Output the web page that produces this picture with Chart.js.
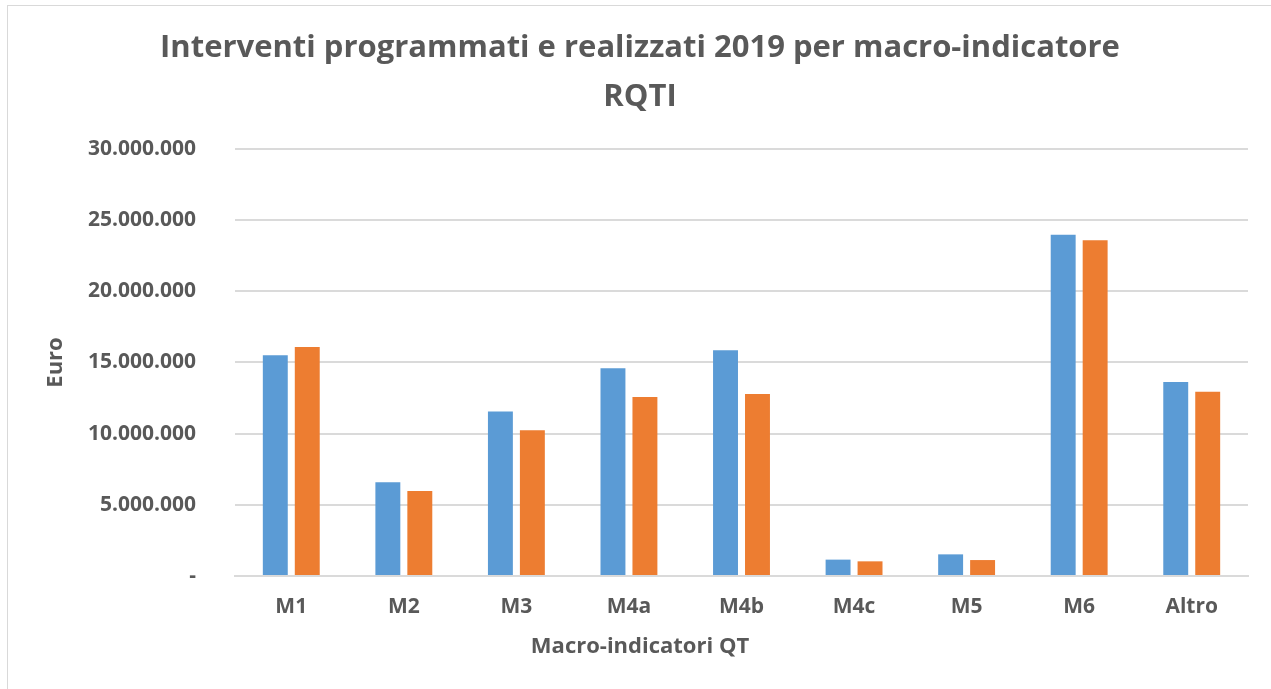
<!DOCTYPE html>
<html>
<head>
<meta charset="utf-8">
<script src="https://cdn.jsdelivr.net/npm/chart.js@4/dist/chart.umd.min.js"></script>
<style>
  html, body { margin: 0; padding: 0; background: #fff; overflow: hidden; }
  #wrap { position: relative; width: 1271px; height: 689px; }
  #frame { position: absolute; left: 7px; top: 5px; width: 1400px; height: 800px;
           border-left: 1px solid #d9d9d9; border-top: 1px solid #d9d9d9; }
  canvas { position: absolute; left: 0; top: 0; }
</style>
</head>
<body>
<div id="wrap">
  <div id="frame"></div>
  <canvas id="chart" width="1271" height="689"></canvas>
</div>
<script>
/* DATA */
const categories = ["M1", "M2", "M3", "M4a", "M4b", "M4c", "M5", "M6", "Altro"];
const programmati = [15510000, 6580000, 11550000, 14600000, 15860000, 1150000, 1520000, 23980000, 13630000];
const realizzati = [16090000, 5970000, 10240000, 12580000, 12790000, 1030000, 1120000, 23590000, 12950000];
const yTicks = [0, 5000000, 10000000, 15000000, 20000000, 25000000, 30000000];

const titleLines = ["Interventi programmati e realizzati 2019 per macro-indicatore", "RQTI"];
const xTitle = "Macro-indicatori QT";
const yTitle = "Euro";

/* STYLE */
const GREY = "#595959";
const GRID = "#dadada";
const FONT = "'Open Sans', 'Liberation Sans', sans-serif";

/* HELPERS */
function fmtEuro(v) {
  if (v === 0) return "-";
  return String(Math.round(v)).replace(/\B(?=(\d{3})+(?!\d))/g, ".");
}

/* CHART */
new Chart(document.getElementById("chart"), {
  type: "bar",
  data: {
    labels: categories,
    datasets: [
      { label: "Programmati", data: programmati, backgroundColor: "#5B9BD5" },
      { label: "Realizzati", data: realizzati, backgroundColor: "#ED7D31" },
    ],
  },
  options: {
    responsive: false,
    animation: false,
    devicePixelRatio: 1,
    // left/right padding chosen so the full-width title boxes centre on the canvas
    layout: { padding: { left: 32, right: 23, top: 0, bottom: 0 } },
    datasets: { bar: { categoryPercentage: 0.568, barPercentage: 0.78 } },
    plugins: {
      legend: { display: false },
      tooltip: { enabled: false },
      title: {
        display: true,
        text: titleLines,
        color: GREY,
        font: { family: FONT, size: 31, weight: "bold", lineHeight: 1.58 },
        padding: { top: 24, bottom: 27 },
      },
      // x-axis title: Excel centres it on the whole chart, not on the plot
      subtitle: {
        display: true,
        position: "bottom",
        text: xTitle,
        color: GREY,
        font: { family: FONT, size: 22, weight: "bold", lineHeight: 1.2 },
        padding: { top: 0, bottom: 29 },
      },
    },
    scales: {
      x: {
        grid: { display: false, drawTicks: false },
        border: { display: true, color: GRID, width: 2 },
        ticks: { color: GREY, font: { family: FONT, size: 21, weight: "bold" }, padding: 18 },
        afterFit: (s) => { s.height = 57.6; },
      },
      y: {
        min: 0,
        max: 30000000,
        grid: { color: GRID, lineWidth: 2, drawTicks: false },
        border: { display: false },
        afterBuildTicks: (s) => { s.ticks = yTicks.map((v) => ({ value: v })); },
        ticks: {
          color: GREY,
          font: { family: FONT, size: 21, weight: "bold" },
          padding: 39,
          callback: (v) => fmtEuro(v),
        },
        title: {
          display: true,
          text: yTitle,
          color: GREY,
          font: { family: FONT, size: 22, weight: "bold" },
          padding: { top: 11, bottom: 0 },
        },
        afterFit: (s) => { s.width = 203; },
      },
    },
  },
});
</script>
</body>
</html>
